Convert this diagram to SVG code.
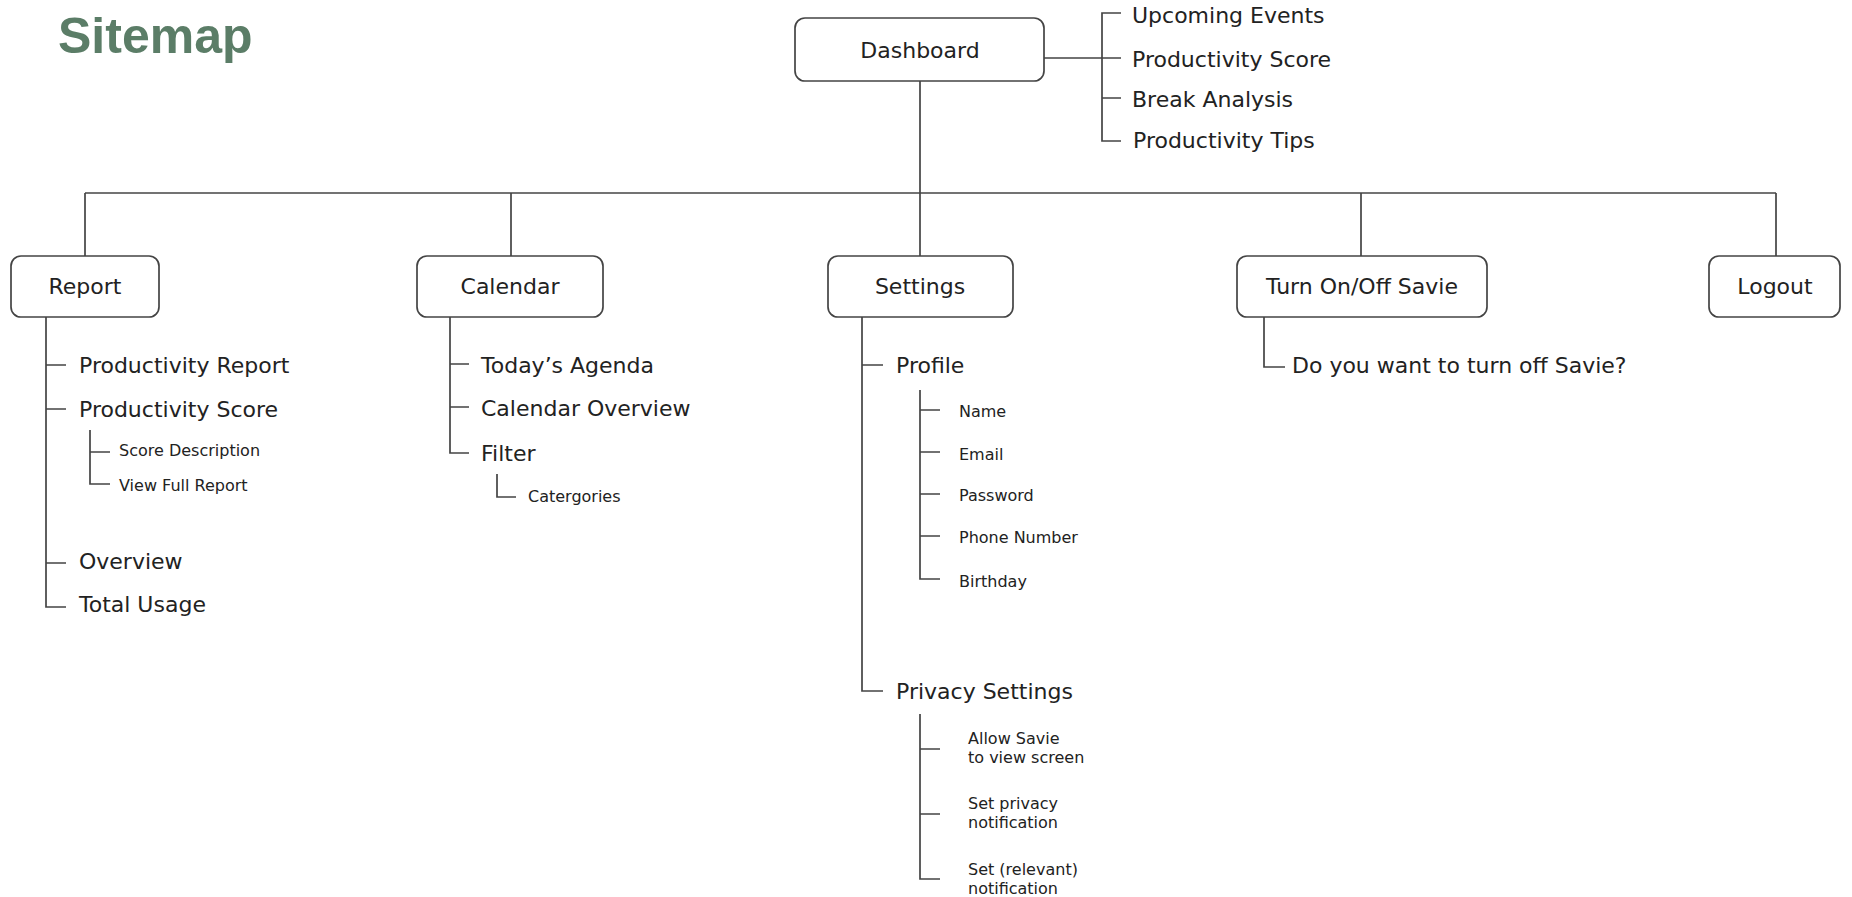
<svg xmlns="http://www.w3.org/2000/svg" width="1852" height="897" viewBox="0 0 1852 897">
<style>
.box{fill:#fff;stroke:#444;stroke-width:1.7}
.ln{fill:none;stroke:#444;stroke-width:1.7}
.t{font-family:"DejaVu Sans",sans-serif;font-size:22px;fill:#222}
.tc{font-family:"DejaVu Sans",sans-serif;font-size:22px;fill:#222;text-anchor:middle}
.s{font-family:"DejaVu Sans",sans-serif;font-size:16px;fill:#222}
.title{font-family:"Liberation Sans",sans-serif;font-weight:bold;font-size:50px;fill:#5b7d67}
</style>
<rect width="1852" height="897" fill="#fff"/>
<text class="title" x="58" y="53">Sitemap</text>
<g id="connectors">
<path class="ln" d="M920 81 V256"/>
<path class="ln" d="M85 193 H1776"/>
<path class="ln" d="M85 193 V256 M511 193 V256 M1361 193 V256 M1776 193 V256"/>
<path class="ln" d="M1044 58 H1121 M1121 13 H1102 V141 H1121 M1102 98 H1121"/>
<path class="ln" d="M46 317 V607 H66 M46 365 H66 M46 409 H66 M46 563 H66"/>
<path class="ln" d="M90 430 V484 H110 M90 452 H110"/>
<path class="ln" d="M450 317 V453 H469 M450 364 H469 M450 407 H469"/>
<path class="ln" d="M497 474 V497 H516"/>
<path class="ln" d="M862 317 V691 H883 M862 365 H883"/>
<path class="ln" d="M920 390 V579 H940 M920 410 H940 M920 452 H940 M920 494 H940 M920 536 H940"/>
<path class="ln" d="M920 714 V879 H940 M920 749 H940 M920 814 H940"/>
<path class="ln" d="M1264 317 V367 H1285"/>
</g>
<g id="dashboard"><rect class="box" x="795" y="18" width="249" height="63" rx="10"/><text class="tc" x="920" y="58">Dashboard</text></g>
<g id="upcoming-events"><text class="t" x="1132" y="23">Upcoming Events</text></g>
<g id="dash-productivity-score"><text class="t" x="1132" y="67">Productivity Score</text></g>
<g id="break-analysis"><text class="t" x="1132" y="107">Break Analysis</text></g>
<g id="productivity-tips"><text class="t" x="1133" y="148">Productivity Tips</text></g>
<g id="report"><rect class="box" x="11" y="256" width="148" height="61" rx="10"/><text class="tc" x="85" y="294">Report</text></g>
<g id="calendar"><rect class="box" x="417" y="256" width="186" height="61" rx="10"/><text class="tc" x="510" y="294">Calendar</text></g>
<g id="settings"><rect class="box" x="828" y="256" width="185" height="61" rx="10"/><text class="tc" x="920" y="294">Settings</text></g>
<g id="turn-on-off"><rect class="box" x="1237" y="256" width="250" height="61" rx="10"/><text class="tc" x="1362" y="294">Turn On/Off Savie</text></g>
<g id="logout"><rect class="box" x="1709" y="256" width="131" height="61" rx="10"/><text class="tc" x="1775" y="294">Logout</text></g>
<g id="productivity-report"><text class="t" x="79" y="373">Productivity Report</text></g>
<g id="report-productivity-score"><text class="t" x="79" y="417">Productivity Score</text></g>
<g id="score-description"><text class="s" x="119" y="456">Score Description</text></g>
<g id="view-full-report"><text class="s" x="119" y="491">View Full Report</text></g>
<g id="overview"><text class="t" x="79" y="569">Overview</text></g>
<g id="total-usage"><text class="t" x="79" y="612">Total Usage</text></g>
<g id="todays-agenda"><text class="t" x="481" y="373">Today’s Agenda</text></g>
<g id="calendar-overview"><text class="t" x="481" y="416">Calendar Overview</text></g>
<g id="filter"><text class="t" x="481" y="461">Filter</text></g>
<g id="catergories"><text class="s" x="528" y="502">Catergories</text></g>
<g id="profile"><text class="t" x="896" y="373">Profile</text></g>
<g id="name"><text class="s" x="959" y="417">Name</text></g>
<g id="email"><text class="s" x="959" y="460">Email</text></g>
<g id="password"><text class="s" x="959" y="501">Password</text></g>
<g id="phone-number"><text class="s" x="959" y="543">Phone Number</text></g>
<g id="birthday"><text class="s" x="959" y="587">Birthday</text></g>
<g id="privacy-settings"><text class="t" x="896" y="699">Privacy Settings</text></g>
<g id="allow-view"><text class="s" x="968" y="744">Allow Savie</text><text class="s" x="968" y="763">to view screen</text></g>
<g id="privacy-notification"><text class="s" x="968" y="809">Set privacy</text><text class="s" x="968" y="828">notification</text></g>
<g id="relevant-notification"><text class="s" x="968" y="875">Set (relevant)</text><text class="s" x="968" y="894">notification</text></g>
<g id="turn-off-question"><text class="t" x="1292" y="373">Do you want to turn off Savie?</text></g>
</svg>
